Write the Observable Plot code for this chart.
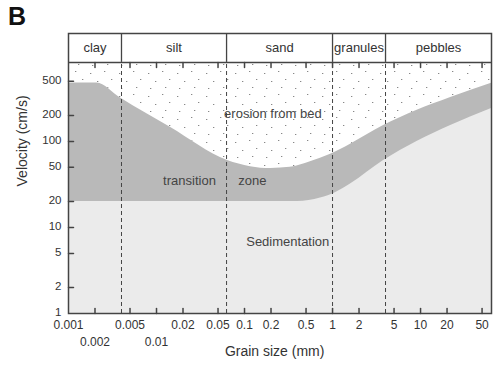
<!DOCTYPE html>
<html><head><meta charset="utf-8">
<script src="https://cdn.jsdelivr.net/npm/d3@7"></script>
<script src="https://cdn.jsdelivr.net/npm/@observablehq/plot@0.6"></script>
<style>
body{margin:0;background:#fff;}
#wrap{position:relative;width:502px;height:370px;font-family:"Liberation Sans",Arial,sans-serif;}
#panel{position:absolute;left:8px;top:4px;font-size:25px;font-weight:bold;color:#111;line-height:1;}
#wrap svg{position:absolute;left:0;top:0;}
</style></head><body>
<div id="wrap"><div id="panel">B</div></div>
<script>
// Grain-size classes and their boundaries (mm)
const classNames = ["clay", "silt", "sand", "granules", "pebbles"];
const classBounds = [0.001, 0.004, 0.0625, 1, 4, 64];
// Axis ticks
const xTickValues = [0.002, 0.005, 0.01, 0.02, 0.05, 0.1, 0.2, 0.5, 1, 2, 5, 10, 20, 50];
const xLabelsRow1 = [0.001, 0.005, 0.02, 0.05, 0.1, 0.2, 0.5, 1, 2, 5, 10, 20, 50];
const xLabelsRow2 = [0.002, 0.01];
const yTickValues = [2, 5, 10, 20, 50, 100, 200, 500];
const yLabels = [1, 2, 5, 10, 20, 50, 100, 200, 500];
// Upper curve: erosion threshold (grain size mm, velocity cm/s)
const upperGrain = [0.001, 0.0021, 0.0039, 0.0145, 0.064, 0.117, 0.2, 0.33, 0.56, 0.95, 1.6, 3.8, 9, 22, 64];
const upperVel   = [480, 480, 320, 145, 60, 51, 48.5, 50, 58, 71, 93, 153, 229, 325, 475];
// Lower curve: sedimentation threshold
const lowerGrain = [0.001, 0.4, 0.73, 1.09, 1.6, 3.8, 9.1, 22, 64];
const lowerVel   = [20, 20, 22, 25.5, 32, 60, 100, 153, 242];
// Velocity limits of the plot area and the header band
const velocityMin = 1;
const headerBottom = 830;
const headerTop = 1800;
// In-plot annotations
const noteText  = ["erosion from bed", "transition", "zone", "Sedimentation"];
const noteGrain = [0.21, 0.0237, 0.123, 0.31];
const noteVel   = [212, 35, 35, 6.9];

const upper = upperGrain.map((g, i) => ({g, v: upperVel[i]}));
const lower = lowerGrain.map((g, i) => ({g, v: lowerVel[i]}));
const notes = noteText.map((t, i) => ({t, g: noteGrain[i], v: noteVel[i]}));
const headerMid = Math.sqrt(headerBottom * headerTop);

const tickShape = {draw(ctx, l) { ctx.moveTo(0, 0); ctx.lineTo(0, -l); }};
const ink = "#444";

const svg = Plot.plot({
  width: 502, height: 370,
  marginLeft: 68, marginRight: 11, marginTop: 33, marginBottom: 57,
  x: {type: "log", domain: [classBounds[0], classBounds[classBounds.length - 1]], axis: null},
  y: {type: "log", domain: [velocityMin, headerTop], axis: null},
  style: {fontFamily: "'Liberation Sans', Arial, sans-serif", fontSize: "12px", color: "#333", background: "white"},
  marks: [
    Plot.areaY(upper, {x: "g", y1: headerBottom, y2: "v", fill: "url(#stipple)", curve: "monotone-x"}),
    Plot.areaY(upper, {x: "g", y1: velocityMin, y2: "v", fill: "#b9b9b9", curve: "monotone-x"}),
    Plot.areaY(lower, {x: "g", y1: velocityMin, y2: "v", fill: "#ebebeb", curve: "monotone-x"}),
    Plot.ruleX(classBounds.slice(1, -1), {y1: velocityMin, y2: headerBottom, stroke: ink, strokeWidth: 1, strokeDasharray: "4,3"}),
    Plot.ruleX(classBounds.slice(1, -1), {y1: headerBottom, y2: headerTop, stroke: ink, strokeWidth: 1.3}),
    Plot.ruleY([headerBottom], {stroke: ink, strokeWidth: 1.5}),
    Plot.frame({stroke: ink, strokeWidth: 1.5}),
    Plot.vectorX(xTickValues, {frameAnchor: "bottom", length: 5, rotate: 0, anchor: "start", shape: tickShape, stroke: ink}),
    Plot.vectorX(xTickValues, {y: headerBottom, length: 5, rotate: 180, anchor: "start", shape: tickShape, stroke: ink}),
    Plot.vectorY(yTickValues, {frameAnchor: "left", length: 5, rotate: 90, anchor: "start", shape: tickShape, stroke: ink}),
    Plot.text(xLabelsRow1, {x: d => d, text: d => String(d), frameAnchor: "bottom", dy: 15, fill: "#333"}),
    Plot.text(xLabelsRow2, {x: d => d, text: d => String(d), frameAnchor: "bottom", dy: 32, fill: "#333"}),
    Plot.text(yLabels, {y: d => d, text: d => String(d), frameAnchor: "left", textAnchor: "end", dx: -7, dy: -1, fontSize: 11.5, fill: "#333"}),
    Plot.text(classNames, {x: (d, i) => Math.sqrt(classBounds[i] * classBounds[i + 1]), y: headerMid, text: d => d, fontSize: 13, fill: "#333"}),
    Plot.text(notes, {x: "g", y: "v", text: "t", fontSize: 13, fill: "#444"}),
    Plot.text(["Grain size (mm)"], {x: 0.22, frameAnchor: "bottom", dy: 42, fontSize: 14, fill: "#333"}),
    Plot.text(["Velocity (cm/s)"], {y: 30, frameAnchor: "left", dx: -46, rotate: -90, fontSize: 14, fill: "#333"})
  ]
});

const ns = "http://www.w3.org/2000/svg";
const defs = document.createElementNS(ns, "defs");
defs.innerHTML = `<pattern id="stipple" width="29" height="23" patternUnits="userSpaceOnUse">
<rect width="29" height="23" fill="white"/>
<rect x="3" y="4" width="1.3" height="1" fill="#888"/>
<rect x="17" y="2" width="1.3" height="1" fill="#888"/>
<rect x="10" y="12" width="1.3" height="1" fill="#888"/>
<rect x="24" y="10" width="1.3" height="1" fill="#888"/>
<rect x="5" y="19" width="1.3" height="1" fill="#888"/>
<rect x="20" y="18" width="1.3" height="1" fill="#888"/>
</pattern>`;
svg.insertBefore(defs, svg.firstChild);
document.getElementById("wrap").insertBefore(svg, document.getElementById("panel"));
</script>
</body></html>
